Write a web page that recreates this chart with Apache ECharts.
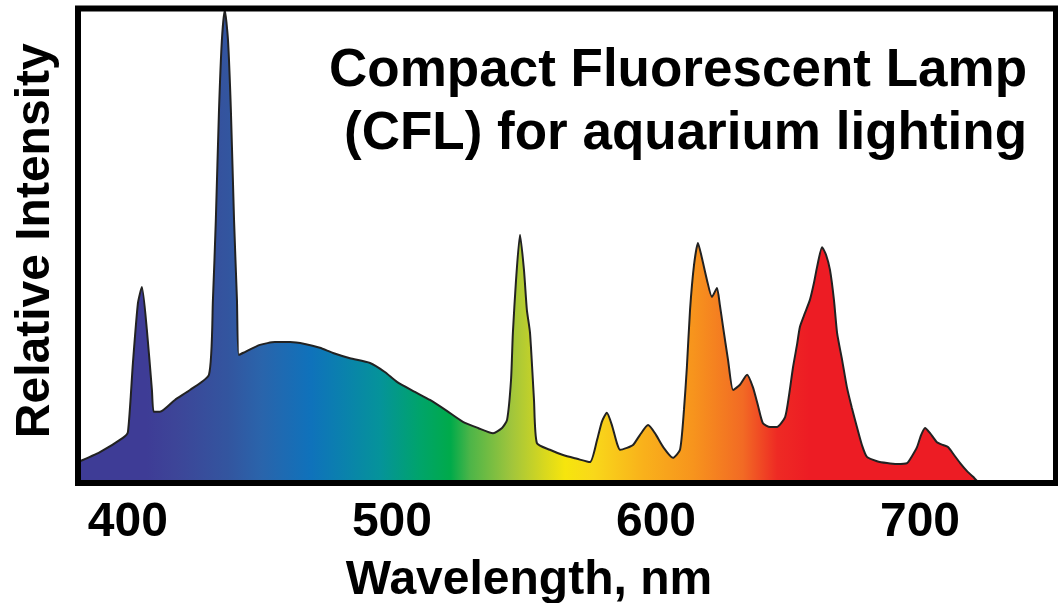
<!DOCTYPE html>
<html>
<head>
<meta charset="utf-8">
<script src="https://cdn.jsdelivr.net/npm/echarts@6/dist/echarts.min.js"></script>
<style>
  html, body { margin: 0; padding: 0; background: #fff; }
  #chart { width: 1058px; height: 603px; }
</style>
</head>
<body>
<div id="chart"></div>
<script>
// wavelength (nm) and relative intensity (0-100)
var wavelength = [
  381.1, 389.4, 398.1, 400, 401.9, 403.8, 405.3, 407.2, 409.1, 409.8,
  412.1, 417.8, 423.5, 430.7, 432.2, 433.3, 434.5, 435.6, 436.7, 437.9,
  439.0, 440.2, 441.3, 442.0, 444.3, 450.0, 455.7, 461.4, 467.0, 472.7,
  477.7, 484.1, 491.7, 497.3, 501.9, 508.7, 514.4, 520.8, 526.9, 532.6,
  538.3, 541.7, 543.6, 545.1, 545.8, 547.0, 548.5, 550.0, 551.1, 552.3,
  553.8, 554.9, 559.8, 564.8, 570.1, 575.0, 577.7, 579.5, 581.4, 583.3,
  585.2, 586.4, 589.0, 591.3, 593.9, 597.0, 599.6, 602.7, 606.4, 609.1,
  610.6, 611.7, 612.9, 614.4, 615.9, 617.4, 619.3, 621.2, 623.1, 624.2,
  625.4, 627.3, 629.2, 631.8, 634.5, 636.7, 638.6, 640.5, 643.2, 645.8,
  648.9, 650.4, 651.9, 653.4, 654.5, 656.4, 658.3, 659.8, 661.0, 662.9,
  664.4, 665.9, 667.4, 668.6, 670.5, 672.3, 674.2, 676.1, 678.0, 679.9,
  683.7, 687.5, 691.3, 695.1, 697.0, 698.9, 700.4, 701.9, 703.8, 706.4,
  708.7, 710.6, 712.9, 715.2, 717.8, 720.1, 722.7, 751.5
];
var intensity = [
  4.4, 6.5, 9.5, 10.7, 25.3, 37.9, 41.3, 32.2, 19.6, 15.0,
  15.0, 17.5, 19.6, 22.8, 38.6, 55.4, 78.6, 93.4, 99.7, 93.4,
  78.6, 55.4, 38.6, 27.0, 27.6, 29.1, 29.7, 29.7, 29.3, 28.5,
  27.4, 26.3, 25.3, 23.4, 21.3, 19.2, 17.5, 15.2, 12.9, 11.6,
  10.5, 11.6, 13.3, 21.7, 31.6, 42.8, 52.3, 44.9, 36.5, 31.6,
  17.5, 8.4, 7.0, 5.9, 5.1, 4.4, 9.1, 12.9, 14.8, 12.2,
  8.4, 7.0, 7.4, 8.0, 10.1, 12.2, 10.5, 7.6, 5.3, 7.0,
  15.4, 24.4, 36.5, 45.9, 50.6, 47.4, 42.8, 39.2, 41.1, 37.5,
  32.9, 25.9, 19.6, 20.7, 22.8, 20.2, 16.4, 12.6, 11.8, 11.8,
  13.9, 18.5, 24.4, 29.1, 32.9, 35.8, 38.6, 42.1, 45.5, 49.7,
  48.1, 44.9, 38.6, 31.6, 25.9, 20.2, 15.8, 11.8, 8.0, 5.5,
  4.6, 4.2, 4.0, 4.2, 5.7, 7.6, 10.1, 11.6, 10.5, 8.6,
  8.0, 7.6, 5.9, 4.2, 2.5, 1.3, 0, 0
];
var tickLabels = [400, 500, 600, 700];

var titleText = 'Compact Fluorescent Lamp\n(CFL) for aquarium lighting';
var fontFamily = "'Liberation Sans', Arial, sans-serif";

var chart = echarts.init(document.getElementById('chart'), null, { renderer: 'canvas' });

var points = wavelength.map(function (w, i) {
  return [w, intensity[i]];
});

// spectrum colours, left to right
var spectrum = new echarts.graphic.LinearGradient(0, 0, 1, 0, [
  { offset: 0, color: '#3e3c96' },
  { offset: 0.07, color: '#3e3c96' },
  { offset: 0.10, color: '#3d4598' },
  { offset: 0.153, color: '#33559f' },
  { offset: 0.187, color: '#2a64ab' },
  { offset: 0.238, color: '#0f72bb' },
  { offset: 0.273, color: '#0a82ac' },
  { offset: 0.309, color: '#05939a' },
  { offset: 0.35, color: '#00a46a' },
  { offset: 0.381, color: '#00aa4a' },
  { offset: 0.401, color: '#4db548' },
  { offset: 0.443, color: '#a0c53c' },
  { offset: 0.477, color: '#d8d81e' },
  { offset: 0.498, color: '#f6e50d' },
  { offset: 0.527, color: '#f9d81a' },
  { offset: 0.578, color: '#f9b11b' },
  { offset: 0.629, color: '#f7941d' },
  { offset: 0.68, color: '#f26a24' },
  { offset: 0.715, color: '#ee2a24' },
  { offset: 0.748, color: '#ed1c24' },
  { offset: 1, color: '#ed1c24' }
]);

var option = {
  backgroundColor: '#fff',
  animation: false,
  title: {
    text: titleText,
    left: 1022,
    top: 35,
    textAlign: 'right',
    textStyle: {
      fontFamily: fontFamily,
      fontWeight: 'bold',
      fontSize: 53,
      lineHeight: 63,
      color: '#000'
    }
  },
  grid: {
    show: true,
    z: 10,
    left: 78,
    top: 8.5,
    right: 2,
    bottom: 120,
    outerBoundsMode: 'none',
    borderWidth: 6,
    borderColor: '#000',
    backgroundColor: 'transparent'
  },
  xAxis: {
    type: 'value',
    min: 381.1,
    max: 751.5,
    name: 'Wavelength, nm',
    nameLocation: 'middle',
    nameGap: 74,
    nameTextStyle: {
      fontFamily: fontFamily,
      fontWeight: 'bold',
      fontSize: 48,
      color: '#000',
      padding: [0, 76, 0, 0]
    },
    axisLine: { show: false },
    axisTick: { show: false },
    splitLine: { show: false },
    axisLabel: {
      customValues: tickLabels,
      margin: 16,
      fontFamily: fontFamily,
      fontWeight: 'bold',
      fontSize: 48,
      color: '#000'
    }
  },
  yAxis: {
    type: 'value',
    min: 0,
    max: 100,
    name: 'Relative Intensity',
    nameLocation: 'middle',
    nameRotate: 90,
    nameGap: 18,
    nameTextStyle: {
      fontFamily: fontFamily,
      fontWeight: 'bold',
      fontSize: 48,
      color: '#000',
      padding: [0, 0, 0, 10]
    },
    axisLine: { show: false },
    axisTick: { show: false },
    axisLabel: { show: false },
    splitLine: { show: false }
  },
  series: [{
    name: 'CFL',
    type: 'line',
    data: points,
    showSymbol: false,
    smooth: 0.2,
    lineStyle: { color: '#222', width: 2 },
    areaStyle: { color: spectrum, opacity: 1 }
  }]
};

chart.setOption(option);
</script>
</body>
</html>
